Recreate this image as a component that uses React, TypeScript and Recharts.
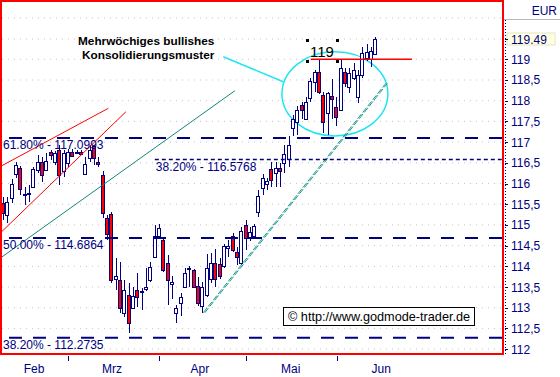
import React from 'react';
import { ComposedChart, Bar, XAxis, YAxis, CartesianGrid, ReferenceLine, ReferenceArea } from 'recharts';

const NAVY = '#000080';
const RED = '#ff0000';
const CYAN = '#1ee6f0';
const TEAL = '#14867a';
const AXIS_FONT = "'Liberation Sans Narrow', 'Arial Narrow', 'Liberation Sans', Arial, sans-serif";
const TEXT_FONT = "'Liberation Sans', Arial, sans-serif";

// daily candles, Feb - Jun
const candleOpen = [
  115.52, 115.24, 115.64, 116.23, 116.37, 115.72, 115.75, 115.92, 116.33, 116.53,
  116.33, 116.76, 116.53, 116.81, 116.29, 116.5, 116.77, 116.76, 116.77, 116.22,
  116.61, 116.91, 116.53, 116.21, 115.16, 115.26, 113.69, 113.67, 112.87, 113.31,
  112.99, 113.43, 113.37, 113.46, 113.67, 114.23, 114.72, 114.64, 114.09, 113.57,
  112.87, 113.12, 113.51, 113.97, 113.91, 113.52, 113.04, 113.3, 113.69, 114.09,
  114.05, 114.0, 114.45, 114.73, 114.35, 114.07, 115.0, 114.68, 114.72, 115.3,
  115.88, 116.0, 116.34, 116.26, 116.38, 116.49, 116.58, 117.33, 117.49, 117.9,
  117.57, 118.06, 118.46, 118.7, 118.14, 117.7, 118.11, 117.85, 117.78, 118.7,
  118.34, 118.54, 118.1, 118.62, 119.02, 119.0, 119.13,
];
const candleHigh = [
  115.68, 115.68, 116.1, 116.53, 116.42, 115.92, 115.96, 116.41, 116.69, 116.65,
  116.73, 116.81, 116.78, 116.93, 116.81, 116.83, 116.83, 116.8, 116.8, 116.65,
  116.93, 116.93, 116.65, 116.29, 115.24, 115.32, 114.19, 114.11, 113.67, 113.59,
  113.51, 113.83, 113.47, 113.95, 114.11, 115.0, 115.02, 114.66, 114.27, 113.77,
  113.07, 113.35, 113.95, 114.0, 113.93, 113.75, 113.63, 114.3, 114.31, 114.42,
  114.19, 114.55, 114.64, 114.8, 114.46, 114.96, 115.13, 114.96, 115.02, 115.85,
  116.23, 116.13, 116.53, 116.53, 116.5, 116.93, 117.15, 117.65, 117.87, 117.98,
  118.1, 118.54, 118.74, 118.98, 118.22, 118.22, 118.52, 118.1, 119.0, 118.8,
  118.78, 118.9, 118.74, 119.3, 119.38, 119.3, 119.55,
];
const candleLow = [
  115.12, 115.04, 115.52, 116.13, 115.72, 115.48, 115.56, 115.88, 116.25, 116.04,
  116.29, 116.57, 116.45, 115.96, 116.15, 116.39, 116.63, 116.72, 116.7, 116.21,
  116.53, 116.45, 116.41, 115.16, 114.64, 113.59, 113.43, 112.87, 112.78, 112.4,
  112.96, 113.02, 112.95, 113.4, 113.63, 114.19, 114.68, 113.87, 113.07, 113.2,
  112.64, 112.8, 113.49, 113.51, 113.49, 113.04, 112.88, 113.25, 113.6, 113.5,
  113.7, 113.95, 114.23, 114.35, 114.03, 114.03, 114.39, 114.6, 114.68, 115.2,
  115.72, 115.84, 115.92, 115.92, 115.92, 116.25, 116.4, 117.15, 117.17, 117.57,
  117.53, 117.98, 118.22, 118.15, 117.21, 117.17, 117.55, 117.4, 117.75, 118.32,
  118.18, 118.5, 117.95, 118.55, 118.97, 118.82, 119.1,
];
const candleClose = [
  115.28, 115.56, 115.98, 116.45, 115.86, 115.75, 115.77, 116.35, 116.53, 116.21,
  116.54, 116.68, 116.73, 116.21, 116.73, 116.77, 116.67, 116.74, 116.72, 116.47,
  116.81, 116.61, 116.47, 115.28, 114.78, 113.67, 113.77, 112.99, 113.43, 112.62,
  113.28, 113.25, 113.4, 113.5, 113.99, 114.73, 114.92, 113.91, 113.67, 113.61,
  112.99, 113.27, 113.85, 113.95, 113.51, 113.12, 113.51, 113.97, 114.09, 113.69,
  113.77, 114.5, 114.5, 114.39, 114.22, 114.86, 114.68, 114.84, 114.97, 115.7,
  116.13, 116.06, 116.08, 116.38, 116.29, 116.71, 116.93, 117.55, 117.78, 117.78,
  117.98, 118.48, 118.7, 118.2, 117.49, 118.19, 118.03, 117.61, 118.78, 118.43,
  118.66, 118.74, 118.62, 119.16, 119.18, 119.21, 119.49,
];

const monthStarts = [15, 36, 56, 77];
const monthNames = ['Feb', 'Mrz', 'Apr', 'Mai', 'Jun'];
const monthLabelPos = [7.1, 25.1, 45.4, 66.4, 87.3];

const lastClose = candleClose[candleClose.length - 1];
const yTicks = [112, 112.5, 113, 113.5, 114, 114.5, 115, 115.5, 116, 116.5, 117, 117.5, 118, 118.5, 119, lastClose, 120];

// fibonacci retracements
const fibLevels = [117.0993, 114.6864, 112.2735];
const fibNames = ['61.80%', '50.00%', '38.20%'];
const fibShort = { level: 116.5768, name: '38.20%', from: 35 };

// drawn trend lines [i, price]
const redUpper = [[-0.76, 116.406], [24.25, 117.816]];
const redLower = [[-0.76, 114.797], [28.34, 117.734]];
const tealLine = [[-0.76, 114.193], [53.51, 118.242]];
const supportLine = [[46.19, 112.879], [88.38, 118.42]];
const calloutLine = [[50.81, 119.063], [64.67, 118.459]];
const markLine = [[71, 119], [94.4, 119]];
const ellipseBox = { x1: 64.36, x2: 88.84, y1: 117.15, y2: 119.18 };

const data = candleOpen.map((o, i) => ({
  i,
  o,
  h: candleHigh[i],
  l: candleLow[i],
  c: candleClose[i],
  range: [candleLow[i], candleHigh[i]],
}));

const seg = (pts: number[][]) => pts.map(([x, y]) => ({ x, y }));

const Candle = (props: any) => {
  const { x, y, width, height, payload } = props;
  if (x == null || !payload) return null;
  const { o, h, l, c } = payload;
  const top = Math.min(y, y + height);
  const hp = Math.abs(height);
  const ratio = hp / (h - l || 1);
  const cx = Math.round(x + width / 2);
  const yO = top + (h - o) * ratio;
  const yC = top + (h - c) * ratio;
  const bt = Math.round(Math.min(yO, yC)) + 0.5;
  const bb = Math.max(Math.round(Math.max(yO, yC)) + 0.5, bt + 1);
  const up = c >= o;
  return (
    <g>
      <line x1={cx + 0.5} x2={cx + 0.5} y1={Math.round(top)} y2={Math.round(top + hp)} stroke={NAVY} strokeWidth={1} />
      <rect x={cx - 1.5} y={bt} width={3} height={bb - bt} fill={up ? '#ffffff' : RED} stroke={NAVY} strokeWidth={1} />
    </g>
  );
};

const XTick = (props: any) => {
  const { x, y, payload } = props;
  const v = payload.value;
  if (monthStarts.includes(v)) {
    const px = Math.round(x) + 0.5;
    return <line x1={px} x2={px} y1={y + 2} y2={y + 7} stroke={NAVY} strokeWidth={1} />;
  }
  const idx = monthLabelPos.indexOf(v);
  if (idx < 0) return null;
  return (
    <text x={x} y={y + 19} textAnchor="middle" fill={NAVY} fontSize={12} fontFamily={AXIS_FONT}>
      {monthNames[idx]}
    </text>
  );
};

const YTick = (props: any) => {
  const { x, y, payload } = props;
  const v = payload.value;
  if (v === 120) return null;
  if (v === lastClose) {
    return (
      <g>
        <rect x={x + 5} y={y - 6} width={48} height={12} fill="#ffffe1" stroke="#e4e4c8" />
        <line x1={x + 3} x2={x + 6} y1={y + 0.5} y2={y + 0.5} stroke={NAVY} />
        <text x={x + 9} y={y + 4.5} fill={NAVY} fontSize={12} fontFamily={AXIS_FONT}>
          {v.toFixed(2)}
        </text>
      </g>
    );
  }
  const label = Number.isInteger(v) ? String(v) : String(v).replace('.', ',');
  return (
    <g>
      <line x1={x + 3} x2={x + 6} y1={Math.round(y) + 0.5} y2={Math.round(y) + 0.5} stroke={NAVY} />
      <text x={x + 9} y={y + 4.5} fill={NAVY} fontSize={12} fontFamily={AXIS_FONT}>
        {label}
      </text>
    </g>
  );
};

const FibLabel = (props: any) => {
  const { viewBox, text } = props;
  if (!viewBox) return null;
  return (
    <text x={viewBox.x + 1} y={viewBox.y + 11.5} fill={NAVY} fontSize={12} fontFamily={AXIS_FONT}>
      {text}
    </text>
  );
};

const EllipseShape = (props: any) => {
  const { x, y, width, height } = props;
  return (
    <ellipse cx={x + width / 2} cy={y + height / 2} rx={width / 2} ry={height / 2} fill="none" stroke={CYAN} strokeWidth={1.5} />
  );
};

export default function App() {
  return (
    <div style={{ position: 'absolute', left: 0, top: 0, width: 560, height: 377, background: '#fff' }}>
      <ComposedChart width={560} height={377} data={data} margin={{ top: 1, right: 2, bottom: 1, left: 2 }}>
        <CartesianGrid vertical={false} stroke="#c4c4c4" strokeDasharray="1 5" />
        <XAxis
          dataKey="i"
          type="number"
          domain={[-0.3, 115.2]}
          allowDataOverflow
          ticks={[...monthStarts, ...monthLabelPos]}
          interval={0}
          tick={<XTick />}
          tickLine={false}
          axisLine={false}
          tickSize={0}
          tickMargin={0}
          height={22}
        />
        <YAxis
          orientation="right"
          type="number"
          domain={[111.882, 120.408]}
          allowDataOverflow
          ticks={yTicks}
          interval={0}
          tick={<YTick />}
          tickLine={false}
          axisLine={false}
          tickSize={0}
          tickMargin={0}
          width={56}
        />
        <ReferenceArea {...ellipseBox} ifOverflow="visible" shape={<EllipseShape />} />
        <ReferenceLine segment={seg(redUpper)} stroke={RED} strokeWidth={1} ifOverflow="hidden" />
        <ReferenceLine segment={seg(redLower)} stroke={RED} strokeWidth={1} ifOverflow="hidden" />
        <ReferenceLine segment={seg(tealLine)} stroke={TEAL} strokeWidth={1} ifOverflow="hidden" />
        <ReferenceLine segment={seg(supportLine)} stroke="#1c9a8a" strokeWidth={1} strokeDasharray="6 2" ifOverflow="hidden" />
        <ReferenceLine
          segment={seg(supportLine.map(([x, y]) => [x + 0.35, y]))}
          stroke="#1c9a8a"
          strokeWidth={1}
          strokeDasharray="6 2"
          ifOverflow="hidden"
        />
        <ReferenceLine segment={seg(calloutLine)} stroke={CYAN} strokeWidth={1.5} ifOverflow="visible" />
        <ReferenceLine segment={seg(markLine)} stroke={RED} strokeWidth={1.5} ifOverflow="hidden" />
        {fibLevels.map((lv, k) => (
          <ReferenceLine
            key={lv}
            y={lv}
            stroke={NAVY}
            strokeWidth={2}
            strokeDasharray="13 11"
            label={<FibLabel text={`${fibNames[k]} - ${lv.toFixed(4)}`} />}
          />
        ))}
        <ReferenceLine
          segment={[{ x: fibShort.from, y: fibShort.level }, { x: 115.2, y: fibShort.level }]}
          stroke={NAVY}
          strokeWidth={1.5}
          strokeDasharray="4 3"
          ifOverflow="hidden"
          label={<FibLabel text={`${fibShort.name} - ${fibShort.level.toFixed(4)}`} />}
        />
        <Bar dataKey="range" barSize={5} shape={<Candle />} isAnimationActive={false} />
      </ComposedChart>
      <svg width={560} height={377} style={{ position: 'absolute', left: 0, top: 0, pointerEvents: 'none' }}>
        <rect x={1} y={1} width={502} height={353} fill="none" stroke={RED} strokeWidth={2} />
        <line x1={504} x2={560} y1={19.5} y2={19.5} stroke="#b8b8b8" />
        <text x={557} y={15} textAnchor="end" fill={NAVY} fontSize={12} fontFamily={AXIS_FONT}>EUR</text>
        <line x1={505.5} x2={505.5} y1={20} y2={355} stroke={NAVY} strokeDasharray="1 2" />
        <text x={78} y={45} fill="#000" fontSize={11.8} fontWeight="bold" fontFamily={TEXT_FONT}>Mehrwöchiges bullishes</text>
        <text x={82} y={58.5} fill="#000" fontSize={11.8} fontWeight="bold" fontFamily={TEXT_FONT}>Konsolidierungsmuster</text>
        <text x={310} y={57} fill="#000" fontSize={15} fontFamily={TEXT_FONT}>119</text>
        <rect x={306} y={39} width={3} height={3} fill="#000" />
        <rect x={336} y={39} width={3} height={3} fill="#000" />
        <rect x={306} y={60} width={3} height={3} fill="#000" />
        <rect x={336} y={60} width={3} height={3} fill="#000" />
        <rect x={283.5} y={307.5} width={191} height={18} fill="#fff" stroke="#000" />
        <text x={288} y={321} fill="#000" fontSize={12.7} fontFamily={TEXT_FONT}>© http://www.godmode-trader.de</text>
      </svg>
    </div>
  );
}
